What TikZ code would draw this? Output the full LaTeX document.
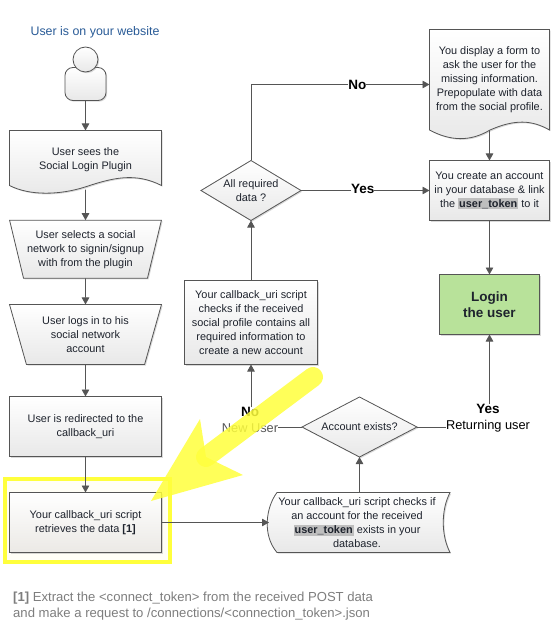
\documentclass[tikz,border=0pt]{standalone}
\usepackage{xcolor}
\usepackage{fontspec}
\setmainfont{Liberation Sans}
\usetikzlibrary{arrows.meta,shapes.geometric,shadows}
\definecolor{ink}{RGB}{85,85,85}
\definecolor{txt}{RGB}{30,35,45}
\definecolor{lt}{RGB}{232,232,232}
\definecolor{warm}{RGB}{235,233,229}
\definecolor{titleblue}{RGB}{40,90,150}
\definecolor{loginfill}{RGB}{184,226,154}
\definecolor{tokengrey}{RGB}{190,190,190}
\definecolor{notegrey}{RGB}{125,125,125}
\definecolor{marker}{RGB}{255,255,60}
\definecolor{pale}{RGB}{255,254,246}
\newcommand{\tokenmark}{{\setlength{\fboxsep}{1pt}\colorbox{tokengrey}{\bfseries user\_token}}}
\tikzset{
  boxshade/.style={draw=ink, line width=0.8pt, top color=white, bottom color=lt,
    drop shadow={shadow xshift=1.2pt, shadow yshift=-1.2pt, opacity=0.3}},
  boxtext/.style={text=txt, font=\fontsize{10.9}{14}\selectfont, align=center, inner sep=0pt, outer sep=0pt},
  procbox/.style={boxshade, boxtext, rectangle},
  slantbox/.style={boxshade, boxtext, trapezium, trapezium stretches=true, shape border rotate=180,
    trapezium left angle=71, trapezium right angle=71, minimum width=152pt},
  decision/.style={boxshade, diamond, inner sep=0pt, outer sep=0pt, minimum width=100pt, minimum height=60pt},
  flowtext/.style={boxtext},
  branch/.style={text=black, font=\fontsize{12.8}{16}\selectfont, align=center, inner sep=0pt},
  branchhead/.style={branch, fill=white, font=\fontsize{13.5}{16}\selectfont\bfseries},
  flow/.style={draw=ink, line width=0.9pt},
  flowto/.style={flow, -{Triangle[length=7pt,width=7.5pt]}}
}
\begin{document}
\begin{tikzpicture}[x=1pt,y=-1pt]
  \useasboundingbox (0,0) rectangle (555,631);
  \node[text=titleblue, font=\fontsize{12.4}{14}\selectfont, inner sep=0pt] (title) at (95,32.5) {User is on your website};

  % person
  \node[boxshade, rectangle, rounded corners=8pt, minimum width=41pt, minimum height=33pt, inner sep=0pt, outer sep=0pt] (user) at (85.5,84) {};
  \node[boxshade, circle, minimum size=25pt, inner sep=0pt, outer sep=0pt] (head) at (85.5,59.5) {};

  % left column
  \path[boxshade] (9.5,130.5) -- (161.5,130.5) -- (161.5,185.5)
    .. controls (135,172) and (112,178) .. (85,187) .. controls (60,195) and (30,196) .. (9.5,185.5) -- cycle;
  \node[boxtext, minimum width=152pt, minimum height=59pt] (plugin) at (85.5,160) {User sees the\\Social Login Plugin};
  \node[slantbox, minimum height=58pt] (network) at (85.5,249.25) {User selects a social\\network to signin/signup\\with from  the plugin};
  \node[slantbox, minimum height=60pt] (logs) at (85.5,334.5) {User logs in to his\\social network\\account};
  \node[procbox, minimum width=152pt, minimum height=60pt] (redirect) at (85.5,426.5) {User is redirected to the\\callback\_uri};
  \path[draw=marker, line width=3.5pt, fill=pale] (5,479) rectangle (170,562);
  \node[procbox, bottom color=warm, minimum width=152pt, minimum height=60pt] (retrieve) at (85.5,522.5) {Your callback\_uri script\\retrieves the data \textbf{[1]}};

  % right column
  \path[boxshade] (429.5,29.5) -- (549.5,29.5) -- (549.5,130)
    .. controls (532,120) and (515,119) .. (490,130) .. controls (470,142) and (450,141) .. (429.5,130) -- cycle;
  \node[boxtext, minimum width=120pt, minimum height=101pt] (form) at (489.5,79.75) {You display a form to\\ask the user for the\\missing information.\\Prepopulate with data\\from the social profile.};
  \node[procbox, minimum width=120pt, minimum height=60pt] (create) at (489.5,190.5) {You create an account\\in your database \& link\\the \tokenmark{} to it};
  \node[procbox, fill=loginfill, top color=loginfill, bottom color=loginfill, font=\fontsize{13.5}{16}\selectfont\bfseries, minimum width=100pt, minimum height=60pt] (login) at (489.5,304.5) {Login\\the user};

  % middle
  \node[decision, label={[flowtext]center:All required\\data ?}] (required) at (251,190.5) {};
  \node[procbox, minimum width=133pt, minimum height=84pt] (checkprofile) at (251,322.5) {Your callback\_uri script\\checks if the received\\social profile contains all\\required information to\\create a new account};
  \node[decision, minimum width=115pt, label={[flowtext]center:Account exists?}] (exists) at (359.5,427) {};
  \path[boxshade] (277,492.5) -- (450,492.5) .. controls (441,510) and (441,535) .. (450,552.5)
    -- (277,552.5) .. controls (262,535) and (266,507) .. (277,492.5) -- cycle;
  \node[boxtext, minimum width=176pt, minimum height=60pt] (stored) at (357,522.5) {Your callback\_uri script checks if\\an account for the received\\\tokenmark{} exists in your\\database.};

  \node[branch] (newuser) at (250,420) {{\fontsize{13.5}{16}\selectfont\bfseries No}\\[-0.5pt]{\color{ink}New User}};
  \node[branch] (returning) at (488,418) {{\fontsize{13.5}{16}\selectfont\bfseries Yes}\\Returning user};
  \coordinate (formin) at (429.5,84.5);

  % connectors
  \draw[flowto] (user.south) -- (plugin.north);
  \draw[flowto] (plugin.south) -- (network.north);
  \draw[flowto] (network.south) -- (logs.north);
  \draw[flowto] (logs.south) -- (redirect.north);
  \draw[flowto] (redirect.south) -- (retrieve.north);
  \draw[flowto] (retrieve.east) -- (stored.west);
  \draw[flowto] (stored.north -| exists.south) -- (exists.south);
  \draw[flow] (exists.west) -- (exists.west -| newuser.east);
  \draw[flow] (exists.east) -- (exists.east -| returning.west);
  \draw[flowto] (newuser.north -| checkprofile.south) -- (checkprofile.south);
  \draw[flowto] (returning.north -| login.south) -- (login.south);
  \draw[flowto] (checkprofile.north) -- (required.south);
  \draw[flowto] (required.north) |- (formin)
    node[pos=0.798, branchhead] (nolabel) {No};
  \draw[flowto] (required.east) -- (create.west)
    node[pos=0.48, branchhead, yshift=1.5pt] (yeslabel) {Yes};
  \draw[flowto] (form.south) -- (create.north);
  \draw[flowto] (create.south) -- (login.north);

  \node[text=notegrey, font=\fontsize{13.1}{16}\selectfont, align=left, anchor=north west, inner sep=0pt] (note) at (13,591.5)
    {\textbf{[1]} Extract the <connect\_token> from the received POST data\\and make a request to /connections/<connection\_token>.json};

  % big marker arrow
  \draw[marker, line width=20pt, line cap=round, opacity=0.85] (313,377) -- (206,457);
  \fill[marker, opacity=0.85] (151,501) -- (200,419) -- (206,457) -- (243,475) -- cycle;
\end{tikzpicture}
\end{document}
